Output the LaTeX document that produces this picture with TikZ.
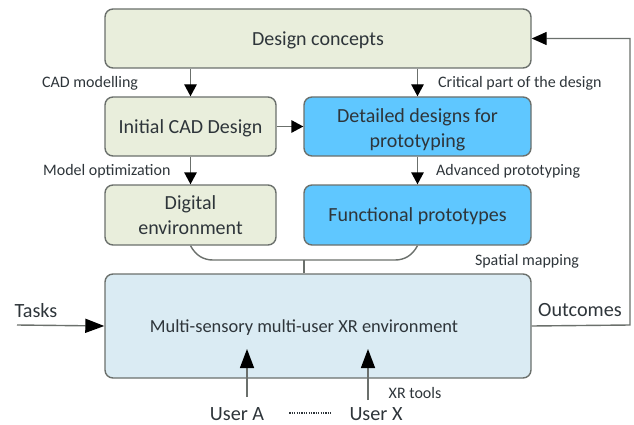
\documentclass[tikz,border=0pt]{standalone}
\usepackage{fontspec}
\setmainfont{Carlito}
\usetikzlibrary{arrows.meta,calc}
\definecolor{boxline}{HTML}{6B706C}
\definecolor{palegreen}{HTML}{E9EEDC}
\definecolor{brightblue}{HTML}{5FC7FF}
\definecolor{paleblue}{HTML}{DAEBF3}
\definecolor{inktext}{HTML}{2E353A}
\tikzset{
	block/.style={draw=boxline,line width=1.4pt,rounded corners=8pt,inner sep=0pt,align=center,
		text=inktext,font=\fontsize{20}{25}\selectfont},
	greenblock/.style={block,fill=palegreen},
	blueblock/.style={block,fill=brightblue},
	envblock/.style={block,fill=paleblue,font=\fontsize{18.4}{23}\selectfont},
	oneline/.style={text depth=0pt},
	note/.style={text=inktext,inner sep=0pt,font=\fontsize{16}{19}\selectfont},
	outer/.style={text=inktext,inner sep=0pt,font=\fontsize{20.2}{24}\selectfont},
	link/.style={draw=boxline,line width=1.4pt},
	flow/.style={link,-{Triangle[length=12pt,width=12.5pt,color=black]}},
	bigflow/.style={link,-{Triangle[length=19pt,width=14pt,color=black]}}
}
\begin{document}
\begin{tikzpicture}[x=1pt,y=-1pt]
	\useasboundingbox (0,0) rectangle (634,425);
	% boxes
	\node[greenblock,oneline,minimum width=426pt,minimum height=59pt] (concepts) at (318,38.5) {Design concepts};
	\node[greenblock,oneline,minimum width=171pt,minimum height=59pt] (initial) at (190.5,126.5) {Initial CAD Design};
	\node[blueblock,minimum width=227pt,minimum height=59pt] (detailed) at (417.5,126.5) {\rule{0pt}{19.5pt}Detailed designs for\\prototyping};
	\node[greenblock,minimum width=171pt,minimum height=60pt] (digital) at (190.5,215) {Digital\\environment};
	\node[blueblock,oneline,minimum width=227pt,minimum height=60pt] (functional) at (417.5,215) {Functional prototypes};
	\node[envblock,oneline,minimum width=426pt,minimum height=104pt] (env) at (318,326) {\hspace*{-28pt}Multi-sensory multi-user XR environment};
	% outside texts
	\node[outer] (tasks) at (36,311) {Tasks};
	\node[outer] (outcomes) at (580,310) {Outcomes};
	\node[outer] (userA) at (237,414) {User A};
	\node[outer] (userX) at (376,414) {User X};
	\node[note,anchor=west] (cadnote) at (42,83) {CAD modelling};
	\node[note,anchor=west] (critnote) at (438,83) {Critical part of the design};
	\node[note,anchor=west] (modelnote) at (43,171) {Model optimization};
	\node[note,anchor=west] (advnote) at (436,171) {Advanced prototyping};
	\node[note] (spatialnote) at (527,261) {Spatial mapping};
	\node[note] (toolsnote) at (415,393) {XR tools};
	% free ends
	\coordinate (taskstart) at (17,325);
	\coordinate (outcorner) at (630,325);
	\coordinate (joint) at (304,260);
	\coordinate (userAfoot) at (247,397);
	\coordinate (userAhead) at (247,349);
	\coordinate (userXfoot) at (368,400);
	\coordinate (userXhead) at (368,349);
	% arrows
	\draw[flow] (concepts.south -| initial.north) -- (initial.north);
	\draw[flow] (concepts.south -| detailed.north) -- (detailed.north);
	\draw[flow] (initial.east) -- (detailed.west);
	\draw[flow] (initial.south) -- (digital.north);
	\draw[flow] (detailed.south) -- (functional.north);
	\draw[bigflow] (taskstart) -- (env.west);
	\draw[bigflow] (userAfoot) -- (userAhead);
	\draw[bigflow] (userXfoot) -- (userXhead);
	\draw[link,-{Triangle[length=15pt,width=13pt,color=black]}] (env.east) -- (outcorner) |- (concepts.east);
	% join under the two lower boxes
	\draw[link] (digital.south) .. controls (196,256) and (204,260) .. (213,260) -- (395,260)
		.. controls (404,260) and (412,256) .. (functional.south);
	\draw[link] (joint) -- (joint |- env.north);
	\draw[line width=1.2pt,inktext,dash pattern=on 1.2pt off 1.2pt] ($(userA.east)+(25,-1)$) -- ($(userX.west)+(-17,-1)$);
\end{tikzpicture}
\end{document}
